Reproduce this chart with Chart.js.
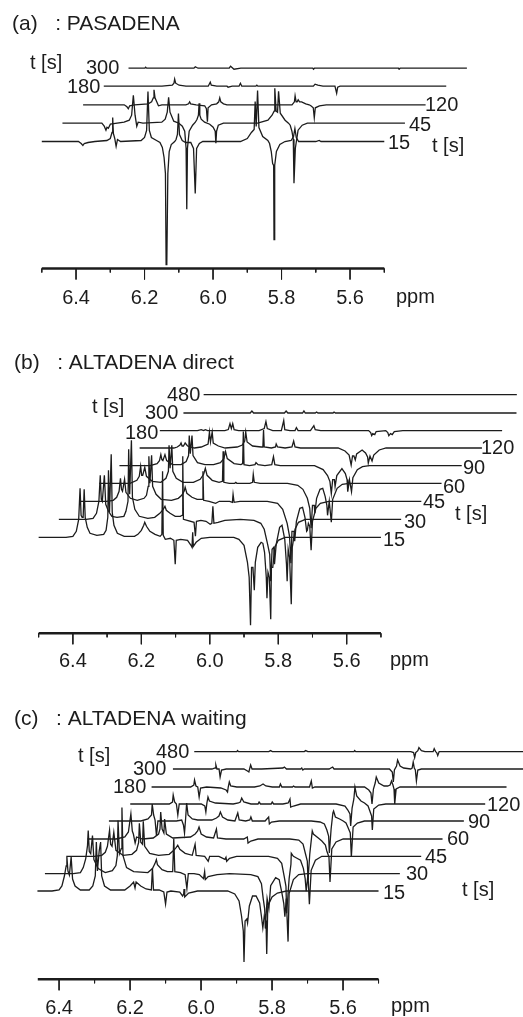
<!DOCTYPE html>
<html>
<head>
<meta charset="utf-8">
<title>PASADENA / ALTADENA spectra</title>
<script src="https://cdn.jsdelivr.net/npm/chart.js@4"></script>
<style>
    html, body { margin: 0; padding: 0; background: #fff; }
    body { position: relative; width: 523px; height: 1017px; overflow: hidden; }
    canvas { position: absolute; left: 0; }
</style>
</head>
<body>
<canvas id="panel-a" width="523" height="330" style="top:0"></canvas>
<canvas id="panel-b" width="523" height="345" style="top:339px"></canvas>
<canvas id="panel-c" width="523" height="322" style="top:695px"></canvas>
<script>
// every trace is [ppm, intensity]
const pasadenaTimes = [15, 45, 120, 180, 300];
const altadenaTimes = [15, 30, 45, 60, 90, 120, 180, 300, 480];
const majorTicks = [6.4, 6.2, 6.0, 5.8, 5.6];
const minorTicks = [6.5, 6.3, 6.1, 5.9, 5.7, 5.5];

const a15 = [[6.5,0],[6.393,0],[6.385,-2],[6.38,-4],[6.376,-2],[6.365,-1],[6.345,0],[6.31,1],[6.3,3],[6.295,9],[6.293,24],[6.291,8],[6.287,3],[6.283,-5],[6.279,2],[6.27,0],[6.21,1],[6.2,4],[6.194,11],[6.19,50],[6.186,11],[6.18,4],[6.165,1],[6.155,-1],[6.148,-6],[6.143,-16],[6.139,-32],[6.137,-123],[6.135,-122],[6.132,-32],[6.128,-10],[6.122,-3],[6.112,0],[6.108,2],[6.104,7],[6.101,28],[6.098,7],[6.09,1],[6.08,-1],[6.065,-1],[6.057,-7],[6.052,-52],[6.048,-7],[6.04,-2],[6.03,0],[5.92,0],[5.9,3],[5.888,9],[5.88,12],[5.877,40],[5.874,15],[5.87,51],[5.866,14],[5.855,5],[5.84,1],[5.835,-2],[5.83,-10],[5.826,-22],[5.823,-24],[5.822,-98],[5.82,-24],[5.815,-10],[5.805,-3],[5.79,0],[5.772,1],[5.765,5],[5.761,13],[5.757,4],[5.75,0],[5.7,0],[5.69,1],[5.685,0],[5.5,0]];
const a45 = [[6.5,0],[6.385,0],[6.378,-3],[6.373,-7],[6.37,-4],[6.366,-5],[6.36,-1],[6.32,1],[6.305,3],[6.298,8],[6.293,28],[6.288,8],[6.283,-3],[6.279,1],[6.265,0],[6.21,1],[6.2,4],[6.194,11],[6.19,26],[6.186,11],[6.175,2],[6.16,0],[6.15,-3],[6.143,-8],[6.139,-25],[6.137,-86],[6.135,-25],[6.13,-8],[6.12,-2],[6.112,1],[6.107,4],[6.103,8],[6.101,20],[6.099,8],[6.095,4],[6.085,1],[6.07,-1],[6.06,-4],[6.054,-8],[6.052,-20],[6.05,-8],[6.045,-2],[6.03,0],[5.93,0],[5.9,3],[5.888,8],[5.882,12],[5.88,35],[5.876,12],[5.872,11],[5.869,32],[5.864,10],[5.85,3],[5.84,0],[5.835,-2],[5.83,-8],[5.826,-16],[5.824,-60],[5.82,-25],[5.812,-7],[5.8,-2],[5.785,0],[5.5,0]];
const a120 = [[6.5,0],[6.38,0],[6.372,-2],[6.368,-4],[6.364,-1],[6.35,0],[6.31,1],[6.3,3],[6.295,7],[6.293,15],[6.29,7],[6.285,3],[6.28,-1],[6.27,0],[6.2,0],[6.192,1],[6.189,3],[6.186,1],[6.17,0],[6.145,-1],[6.14,-4],[6.137,-17],[6.135,-3],[6.125,0],[6.11,1],[6.104,3],[6.101,7],[6.098,3],[6.09,1],[6.08,0],[5.89,0],[5.883,3],[5.881,9],[5.878,3],[5.875,3],[5.872,5],[5.868,3],[5.862,3],[5.85,1],[5.84,0],[5.835,-1],[5.828,-3],[5.825,-13],[5.822,-3],[5.81,-1],[5.79,0],[5.5,0]];
const a180 = [[6.5,0],[6.33,0],[6.3,1],[6.295,3],[6.293,7],[6.29,3],[6.28,1],[6.26,0],[6.195,0],[6.189,4],[6.186,1],[6.17,0],[6.14,0],[6.137,-1],[6.125,0],[6.105,0],[6.101,3],[6.097,0],[6.056,0],[6.053,1],[6.05,0],[5.888,0],[5.883,2],[5.875,1],[5.86,0],[5.825,0],[5.82,-7],[5.817,-1],[5.81,0],[5.5,0]];
const a300 = [[6.488,0],[6.44,0],[6.438,1],[6.435,0],[6.297,0],[6.293,1.5],[6.285,0],[6.194,0],[6.19,2],[6.18,-1],[6.16,0],[5.95,0],[5.948,-1],[5.945,0],[5.7,0],[5.698,-1],[5.695,0],[5.5,0]];

const b15 = [[6.5,0],[6.42,0],[6.4,1],[6.39,6],[6.383,18],[6.379,49],[6.376,22],[6.373,20],[6.37,20],[6.367,48],[6.364,20],[6.358,10],[6.35,4],[6.33,2],[6.31,3],[6.303,7],[6.298,20],[6.296,67],[6.293,25],[6.288,83],[6.285,25],[6.28,12],[6.27,4],[6.25,1],[6.22,1],[6.21,3],[6.2,7],[6.193,12],[6.19,15],[6.185,11],[6.175,6],[6.16,3],[6.145,1],[6.14,3],[6.138,66],[6.136,2],[6.13,-2],[6.115,-1],[6.105,-3],[6.101,-27],[6.098,-3],[6.085,-2],[6.065,-3],[6.055,-8],[6.052,-10],[6.05,5],[6.048,-9],[6.04,-5],[6.025,-1],[6,0],[5.93,0],[5.915,-2],[5.9,-8],[5.89,-25],[5.885,-40],[5.881,-88],[5.878,-30],[5.874,-30],[5.87,-53],[5.867,-25],[5.86,-10],[5.85,-5],[5.845,-6],[5.84,-15],[5.835,-40],[5.833,-61],[5.83,-35],[5.826,-40],[5.822,-82],[5.82,-30],[5.816,-30],[5.81,-10],[5.8,-3],[5.78,0],[5.5,0]];
const b30 = [[6.5,0],[6.42,0],[6.4,1],[6.39,6],[6.383,18],[6.379,44],[6.376,20],[6.373,18],[6.367,44],[6.363,15],[6.355,8],[6.345,3],[6.33,2],[6.31,3],[6.304,8],[6.298,18],[6.296,70],[6.293,25],[6.288,79],[6.285,22],[6.278,10],[6.265,3],[6.24,1],[6.22,2],[6.205,6],[6.195,10],[6.19,13],[6.186,9],[6.175,6],[6.16,3],[6.145,3],[6.14,4],[6.138,63],[6.136,0],[6.125,-1],[6.105,-3],[6.101,-17],[6.098,-2],[6.085,-1],[6.07,-2],[6.058,-5],[6.053,-4],[6.05,13],[6.047,-4],[6.035,-3],[6.015,-1],[5.97,0],[5.93,-1],[5.91,-4],[5.9,-10],[5.89,-25],[5.884,-35],[5.881,-62],[5.877,-30],[5.872,-28],[5.87,-45],[5.865,-25],[5.855,-8],[5.848,-6],[5.84,-20],[5.835,-45],[5.833,-62],[5.83,-30],[5.826,-38],[5.821,-85],[5.818,-28],[5.81,-10],[5.8,-3],[5.78,0],[5.5,0]];
const b45 = [[6.5,0],[6.42,0],[6.4,1],[6.39,4],[6.383,10],[6.379,23],[6.376,12],[6.373,10],[6.367,22],[6.363,9],[6.35,3],[6.33,1],[6.31,3],[6.303,6],[6.298,15],[6.296,45],[6.293,18],[6.288,46],[6.285,15],[6.275,7],[6.26,2],[6.23,1],[6.21,3],[6.2,6],[6.193,10],[6.19,14],[6.185,8],[6.17,4],[6.155,2],[6.14,2],[6.138,30],[6.136,1],[6.12,0],[6.101,-2],[6.09,0],[6.06,0],[6.052,-1],[6.05,7],[6.047,-1],[6.03,0],[5.95,0],[5.92,-2],[5.905,-8],[5.892,-22],[5.885,-35],[5.881,-62],[5.878,-30],[5.872,-30],[5.87,-40],[5.865,-20],[5.855,-7],[5.847,-6],[5.84,-16],[5.835,-30],[5.833,-29],[5.83,-22],[5.826,-25],[5.822,-49],[5.818,-20],[5.808,-7],[5.795,-2],[5.77,0],[5.5,0]];
const b60 = [[6.5,0],[6.41,0],[6.39,3],[6.383,7],[6.379,17],[6.376,8],[6.373,8],[6.367,16],[6.362,7],[6.345,2],[6.32,1],[6.305,5],[6.298,12],[6.296,38],[6.293,15],[6.288,38],[6.285,12],[6.275,5],[6.255,1],[6.225,1],[6.205,4],[6.195,9],[6.19,15],[6.185,8],[6.17,3],[6.15,1],[6.14,2],[6.138,32],[6.136,1],[6.12,0],[6.104,0],[6.101,1],[6.098,0],[6.06,0],[6.052,1],[6.05,9],[6.047,1],[6.03,0],[5.95,0],[5.92,-2],[5.905,-6],[5.892,-15],[5.885,-25],[5.881,-45],[5.877,-22],[5.872,-22],[5.87,-30],[5.865,-15],[5.855,-6],[5.847,-5],[5.84,-13],[5.835,-22],[5.833,-32],[5.828,-18],[5.822,-39],[5.818,-16],[5.805,-5],[5.79,-1],[5.77,0],[5.5,0]];
const b90 = [[6.5,0],[6.41,0],[6.39,2],[6.383,5],[6.379,11],[6.376,6],[6.373,5],[6.367,11],[6.362,5],[6.345,1],[6.32,1],[6.305,4],[6.298,10],[6.296,30],[6.293,12],[6.288,30],[6.285,10],[6.272,3],[6.25,1],[6.225,1],[6.205,3],[6.195,7],[6.19,14],[6.185,7],[6.165,2],[6.145,1],[6.14,2],[6.138,34],[6.136,1],[6.12,0],[6.104,1],[6.101,3],[6.095,1],[6.075,0],[6.055,1],[6.05,9],[6.046,1],[6.03,0],[5.93,0],[5.905,-4],[5.892,-10],[5.885,-16],[5.881,-28],[5.877,-14],[5.872,-14],[5.87,-21],[5.865,-10],[5.85,-3],[5.84,-8],[5.835,-14],[5.833,-26],[5.828,-14],[5.822,-26],[5.818,-12],[5.805,-4],[5.79,-1],[5.77,0],[5.5,0]];
const b120 = [[6.5,0],[6.4,0],[6.39,1],[6.382,3],[6.379,5],[6.376,2],[6.372,2],[6.367,5],[6.36,2],[6.34,0],[6.32,1],[6.3,4],[6.296,16],[6.293,6],[6.288,16],[6.285,5],[6.27,2],[6.25,0],[6.215,1],[6.2,3],[6.193,7],[6.19,16],[6.186,6],[6.17,2],[6.145,1],[6.14,1],[6.138,18],[6.136,1],[6.115,0],[6.103,1],[6.101,4],[6.097,1],[6.075,0],[6.055,1],[6.05,7],[6.046,1],[6.03,0],[5.92,0],[5.9,-3],[5.888,-7],[5.882,-17],[5.878,-8],[5.874,-8],[5.87,-12],[5.866,-6],[5.85,-2],[5.84,-5],[5.834,-9],[5.832,-15],[5.827,-8],[5.821,-13],[5.816,-7],[5.8,-2],[5.78,0],[5.5,0]];
const b180 = [[6.5,0],[6.39,0],[6.379,1],[6.372,0],[6.367,1],[6.36,0],[6.31,0],[6.3,1],[6.295,7],[6.291,2],[6.287,7],[6.283,1],[6.27,0],[6.21,0],[6.195,2],[6.19,9],[6.186,2],[6.17,0],[6.145,0],[6.138,10],[6.135,1],[6.12,0],[6.105,0],[6.101,3],[6.096,0],[6.06,0],[6.05,5],[6.046,1],[6.03,0],[5.89,0],[5.884,-2],[5.881,-5],[5.878,-3],[5.872,-4],[5.868,-1],[5.84,0],[5.834,-2],[5.831,-5],[5.826,-3],[5.821,-4],[5.815,-1],[5.79,0],[5.5,0]];
const b300 = [[6.49,0],[6.295,0],[6.29,2],[6.285,0],[6.195,0],[6.19,2],[6.185,0],[6.142,0],[6.138,2],[6.134,0],[6.105,0],[6.101,1],[6.097,0],[6.053,0],[6.05,1],[6.046,0],[5.517,0]];
const b480 = [[6.49,0],[5.575,0]];

const c15 = [[6.461,0],[6.42,0],[6.4,1],[6.392,5],[6.385,15],[6.38,25],[6.378,34],[6.375,20],[6.371,16],[6.366,34],[6.362,12],[6.355,5],[6.34,1],[6.315,1],[6.305,5],[6.298,15],[6.295,49],[6.292,20],[6.287,40],[6.283,49],[6.28,15],[6.272,5],[6.255,1],[6.215,1],[6.2,5],[6.19,9],[6.186,3],[6.183,9],[6.17,5],[6.155,2],[6.14,1],[6.137,23],[6.134,1],[6.118,1],[6.105,-1],[6.1,-13],[6.096,-1],[6.085,0],[6.06,-1],[6.052,-5],[6.049,-3],[6.048,2],[6.046,-6],[6.035,-2],[6.01,0],[5.925,0],[5.905,-3],[5.893,-10],[5.886,-25],[5.881,-40],[5.879,-71],[5.876,-30],[5.871,-28],[5.869,-32],[5.864,-15],[5.855,-5],[5.845,-5],[5.835,-12],[5.83,-25],[5.826,-37],[5.822,-25],[5.817,-30],[5.815,-63],[5.812,-15],[5.8,-6],[5.785,-2],[5.76,0],[5.5,0]];
const c30 = [[6.5,0],[6.42,0],[6.4,1],[6.392,6],[6.385,15],[6.38,28],[6.378,43],[6.375,22],[6.371,20],[6.366,38],[6.362,14],[6.35,5],[6.33,1],[6.31,3],[6.3,8],[6.296,18],[6.294,53],[6.29,20],[6.285,25],[6.283,66],[6.28,18],[6.27,6],[6.25,2],[6.21,1],[6.197,5],[6.19,10],[6.186,14],[6.183,9],[6.17,4],[6.155,2],[6.14,2],[6.137,35],[6.134,2],[6.118,1],[6.105,-1],[6.1,-15],[6.096,0],[6.08,0],[6.065,-1],[6.053,-5],[6.05,2],[6.048,-6],[6.04,-3],[6.015,-1],[5.98,0],[5.92,-1],[5.9,-3],[5.89,-10],[5.885,-25],[5.881,-35],[5.879,-55],[5.874,-25],[5.869,-35],[5.864,-12],[5.85,-4],[5.84,-6],[5.832,-20],[5.827,-30],[5.824,-43],[5.82,-25],[5.815,-68],[5.812,-20],[5.8,-6],[5.785,-1],[5.76,0],[5.5,0]];
const c45 = [[6.5,0],[6.42,0],[6.4,1],[6.39,4],[6.384,10],[6.378,26],[6.375,12],[6.371,10],[6.366,24],[6.36,6],[6.34,1],[6.315,2],[6.302,6],[6.296,14],[6.294,33],[6.29,14],[6.285,12],[6.283,35],[6.279,10],[6.265,3],[6.24,1],[6.21,2],[6.197,6],[6.19,9],[6.186,11],[6.18,7],[6.165,3],[6.145,1],[6.137,12],[6.134,1],[6.11,0],[6.1,-5],[6.096,0],[6.07,0],[6.053,-3],[6.05,-1],[6.048,-5],[6.04,-2],[6.02,0],[5.93,0],[5.905,-2],[5.893,-7],[5.886,-20],[5.881,-30],[5.879,-57],[5.872,-22],[5.867,-8],[5.866,3],[5.86,0],[5.85,-2],[5.84,-4],[5.832,-12],[5.827,-22],[5.824,-35],[5.819,-18],[5.815,-48],[5.81,-14],[5.798,-4],[5.78,0],[5.5,0]];
const c60 = [[6.5,0],[6.42,0],[6.395,2],[6.385,7],[6.378,25],[6.374,8],[6.371,5],[6.366,-4],[6.362,2],[6.345,0],[6.315,1],[6.3,5],[6.296,10],[6.294,27],[6.29,10],[6.285,6],[6.283,20],[6.278,5],[6.26,1],[6.21,2],[6.197,5],[6.19,8],[6.186,12],[6.18,5],[6.165,2],[6.145,1],[6.137,10],[6.134,1],[6.11,0],[6.06,0],[6.05,2],[6.048,-4],[6.04,-2],[6.02,0],[5.93,0],[5.905,-1],[5.893,-5],[5.886,-15],[5.881,-22],[5.879,-41],[5.874,-15],[5.867,8],[5.864,5],[5.85,1],[5.84,-2],[5.83,-6],[5.826,-12],[5.82,-18],[5.817,-43],[5.812,-10],[5.8,-3],[5.78,0],[5.5,0]];
const c90 = [[6.5,0],[6.41,0],[6.39,2],[6.38,6],[6.378,17],[6.374,6],[6.37,1],[6.366,-15],[6.362,0],[6.345,0],[6.31,0],[6.295,1],[6.29,-4],[6.287,-12],[6.284,2],[6.281,18],[6.277,6],[6.265,2],[6.25,1],[6.21,1],[6.197,3],[6.19,5],[6.186,9],[6.18,4],[6.165,1],[6.145,0],[6.137,8],[6.133,1],[6.115,0],[6.103,1],[6.1,4],[6.096,0],[6.06,0],[6.05,4],[6.048,-3],[6.042,-1],[6.02,0],[5.93,0],[5.905,-1],[5.893,-3],[5.886,-9],[5.881,-15],[5.879,-32],[5.874,-8],[5.869,8],[5.867,10],[5.862,4],[5.85,2],[5.84,0],[5.832,-2],[5.827,-6],[5.82,-12],[5.817,-36],[5.812,-6],[5.8,-2],[5.78,0],[5.5,0]];
const c120 = [[6.5,0],[6.39,0],[6.381,2],[6.379,9],[6.375,2],[6.37,0],[6.366,-11],[6.362,0],[6.34,0],[6.3,0],[6.29,-2],[6.287,-8],[6.284,1],[6.281,7],[6.277,3],[6.26,1],[6.21,0],[6.195,1],[6.19,2],[6.186,6],[6.18,2],[6.16,0],[6.14,0],[6.137,2],[6.133,0],[6.103,0],[6.1,2],[6.096,0],[6.07,0],[6.055,1],[6.05,5],[6.048,-3],[6.04,-2],[6.02,0],[5.92,0],[5.895,-2],[5.887,-6],[5.881,-10],[5.879,-22],[5.875,-4],[5.87,5],[5.867,17],[5.862,8],[5.85,3],[5.84,1],[5.83,-2],[5.825,-7],[5.82,-12],[5.818,-26],[5.814,-5],[5.8,-1],[5.78,0],[5.5,0]];
const c180 = [[6.5,0],[6.39,0],[6.381,2],[6.379,7],[6.375,1],[6.37,0],[6.366,-10],[6.362,-1],[6.345,0],[6.305,-1],[6.29,-3],[6.286,-5],[6.284,0],[6.281,5],[6.277,1],[6.26,0],[6.21,0],[6.195,1],[6.186,3],[6.178,1],[6.16,0],[6.14,0],[6.137,3],[6.133,0],[6.103,0],[6.1,1],[6.096,0],[6.055,0],[6.05,6],[6.047,-1],[6.04,0],[5.9,0],[5.888,-3],[5.882,-6],[5.879,-17],[5.875,-2],[5.87,4],[5.867,10],[5.86,4],[5.845,1],[5.835,1],[5.828,2],[5.824,6],[5.82,2],[5.817,-2],[5.815,-17],[5.811,-2],[5.8,0],[5.5,0]];
const c300 = [[6.5,0],[6.39,0],[6.381,1],[6.379,4],[6.376,0],[6.37,0],[6.367,-8],[6.363,-1],[6.35,0],[6.3,0],[6.29,-2],[6.286,-3],[6.284,0],[6.281,4],[6.277,0],[6.25,0],[6.19,1],[6.186,2],[6.18,0],[6.14,0],[6.137,1],[6.134,-1],[6.13,0],[6.06,0],[6.05,2],[6.046,0],[5.89,0],[5.882,-3],[5.879,-13],[5.876,-1],[5.87,3],[5.867,9],[5.86,3],[5.85,1],[5.83,0],[5.826,1],[5.823,7],[5.82,1],[5.817,-1],[5.814,-12],[5.81,-1],[5.8,0],[5.5,0]];
const c480 = [[6.5,0],[6.38,0],[6.378,1],[6.375,0],[6.29,0],[6.285,1],[6.28,0],[6.19,0],[6.186,1],[6.18,0],[6.05,0],[6.048,1],[6.045,0],[5.89,0],[5.882,-1],[5.879,-6],[5.876,-1],[5.87,1],[5.867,4],[5.86,1],[5.85,0],[5.827,0],[5.824,3],[5.82,0],[5.817,-1],[5.814,-4],[5.81,0],[5.8,0],[5.5,0]];

const INK = '#1c1c1c';
const FONT = '"Liberation Sans", Arial, sans-serif';

// draws the t values and the ppm unit next to the traces
const stackLabels = {
    id: 'stackLabels',
    afterDraw(chart, args, opts) {
        const ctx = chart.ctx;
        ctx.save();
        ctx.font = '20px ' + FONT;
        ctx.fillStyle = INK;
        ctx.textBaseline = 'middle';
        opts.items.forEach(([text, x, y]) => ctx.fillText(text, x, y - opts.top));
        ctx.restore();
    }
};

function toPoints(pairs, shift, lift) {
    return pairs.map(([ppm, value]) => ({x: ppm - shift, y: value + lift}));
}

function ruleDataset(points, width) {
    return {
        data: points,
        showLine: true,
        borderColor: INK,
        borderWidth: width,
        pointRadius: 0,
        clip: false,
        spanGaps: false
    };
}

function setupChart(cfg) {
    const ctx = document.getElementById(cfg.id);

    const datasets = cfg.traces.map((trace, i) => ({
        label: cfg.times[i] + ' s',
        data: toPoints(trace, i * cfg.stepPpm, cfg.lifts[i]),
        showLine: true,
        tension: 0,
        borderColor: INK,
        borderWidth: 1.3,
        pointRadius: 0,
        clip: false
    }));

    // axis rule and tick marks hang below value 0
    const tickMarks = [];
    majorTicks.forEach(v => tickMarks.push({x: v, y: 0}, {x: v, y: -11}, {x: v, y: NaN}));
    minorTicks.filter(v => v <= cfg.axisFrom).forEach(v => tickMarks.push({x: v, y: 0}, {x: v, y: -4}, {x: v, y: NaN}));
    datasets.push(ruleDataset(tickMarks, 1));
    datasets.push(ruleDataset([{x: cfg.axisFrom, y: 0}, {x: 5.5, y: 0}], 2.4));

    return new Chart(ctx, {
        type: 'scatter',
        data: {datasets: datasets},
        options: {
            responsive: false,
            animation: false,
            devicePixelRatio: 1,
            layout: {padding: {left: cfg.left, right: 0, top: 0, bottom: 0}},
            plugins: {
                legend: {display: false},
                tooltip: {enabled: false},
                title: {
                    display: true,
                    text: cfg.title,
                    align: 'start',
                    color: INK,
                    font: {family: FONT, size: 21, weight: 'normal', lineHeight: 24 / 21},
                    padding: {top: 12, bottom: 0}
                },
                stackLabels: {items: cfg.labels, top: cfg.top}
            },
            scales: {
                x: {
                    type: 'linear',
                    reverse: true,
                    min: cfg.ppmRight,
                    max: cfg.ppmLeft,
                    border: {display: false},
                    grid: {display: false, drawTicks: false},
                    afterBuildTicks: scale => { scale.ticks = majorTicks.map(v => ({value: v})); },
                    afterFit: scale => { scale.height = cfg.scaleHeight; },
                    ticks: {
                        autoSkip: false,
                        maxRotation: 0,
                        minRotation: 0,
                        padding: cfg.tickPad,
                        color: INK,
                        font: {family: FONT, size: 20},
                        callback: v => v.toFixed(1)
                    }
                },
                y: {
                    display: false,
                    min: 0,
                    max: cfg.yMax
                }
            }
        },
        plugins: [stackLabels]
    });
}

window.addEventListener('DOMContentLoaded', () => {
    setupChart({
        id: 'panel-a', top: 0, left: 12, title: '(a)   : PASADENA',
        times: pasadenaTimes,
        traces: [a15, a45, a120, a180, a300],
        lifts: [127, 145.3, 163.7, 182.3, 200.3],
        stepPpm: 0.0603, axisFrom: 6.5,
        ppmLeft: 6.587, ppmRight: 5.095, yMax: 232.5, scaleHeight: 61.5, tickPad: 18,
        labels: [['15', 388, 143], ['45', 409, 125], ['120', 425, 105], ['180', 67, 87], ['300', 86, 68],
                 ['t [s]', 30, 63], ['t [s]', 432, 146], ['ppm', 396, 297]]
    });
    setupChart({
        id: 'panel-b', top: 339, left: 14, title: '(b)   : ALTADENA direct',
        times: altadenaTimes,
        traces: [b15, b30, b45, b60, b90, b120, b180, b300, b480],
        lifts: [96, 114, 132, 150, 167.7, 185.3, 202.7, 220.3, 238.7],
        stepPpm: 0.059, axisFrom: 6.5,
        ppmLeft: 6.572, ppmRight: 5.085, yMax: 258.3, scaleHeight: 50.7, tickPad: 16,
        labels: [['15', 383, 540], ['30', 404, 522], ['45', 423, 502], ['60', 443, 487], ['90', 463, 468],
                 ['120', 481, 448], ['180', 125, 433], ['300', 145, 413], ['480', 167, 395],
                 ['t [s]', 92, 407], ['t [s]', 455, 514], ['ppm', 390, 660]]
    });
    setupChart({
        id: 'panel-c', top: 695, left: 14, title: '(c)   : ALTADENA waiting',
        times: altadenaTimes,
        traces: [c15, c30, c45, c60, c90, c120, c180, c300, c480],
        lifts: [88.3, 105.7, 123, 140.3, 158.3, 175.3, 192.3, 210.3, 227.7],
        stepPpm: 0.0601, axisFrom: 6.46,
        ppmLeft: 6.527, ppmRight: 5.093, yMax: 248.3, scaleHeight: 37.7, tickPad: 17,
        labels: [['15', 383, 893], ['30', 406, 874], ['45', 425, 857], ['60', 447, 839], ['90', 468, 822],
                 ['120', 487, 805], ['180', 113, 787], ['300', 133, 769], ['480', 156, 752],
                 ['t [s]', 78, 756], ['t [s]', 462, 890], ['ppm', 391, 1006]]
    });
});
</script>
</body>
</html>
